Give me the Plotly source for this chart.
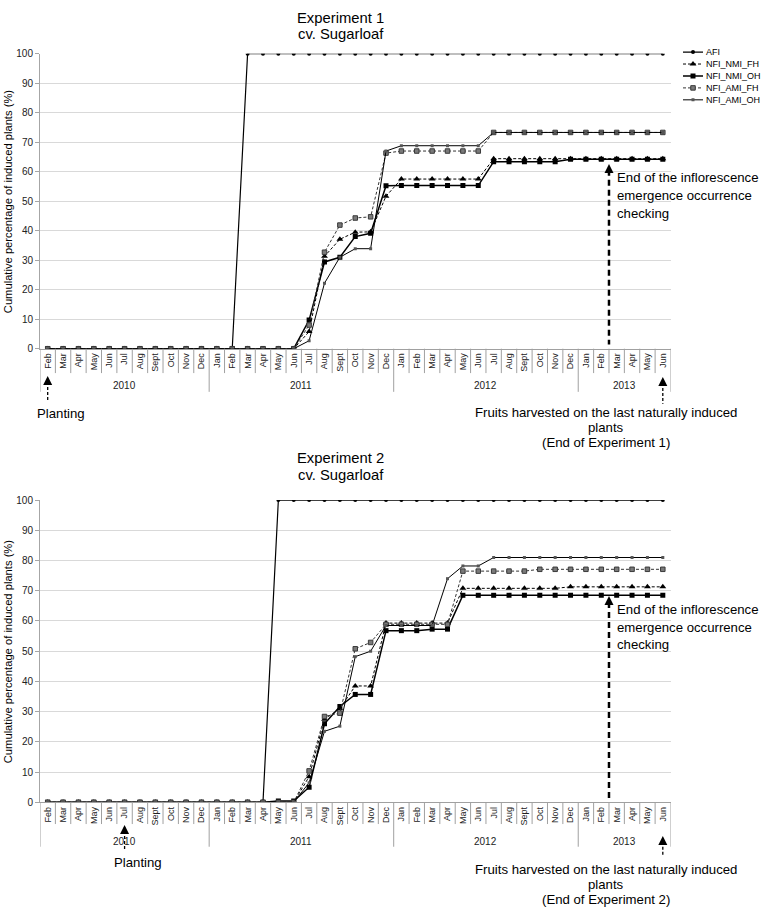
import plotly.graph_objects as go

W, H = 761, 908

# ---------------- data ----------------
months = ["Feb", "Mar", "Apr", "May", "Jun", "Jul", "Aug", "Sept", "Oct", "Nov", "Dec",
          "Jan", "Feb", "Mar", "Apr", "May", "Jun", "Jul", "Aug", "Sept", "Oct", "Nov", "Dec",
          "Jan", "Feb", "Mar", "Apr", "May", "Jun", "Jul", "Aug", "Sept", "Oct", "Nov", "Dec",
          "Jan", "Feb", "Mar", "Apr", "May", "Jun"]
years = ["2010"] * 11 + ["2011"] * 12 + ["2012"] * 12 + ["2013"] * 6

series_names = ["AFI", "NFI_NMI_FH", "NFI_NMI_OH", "NFI_AMI_FH", "NFI_AMI_OH"]

# Experiment 1
afi_1 = [0, 0, 0, 0, 0, 0, 0, 0, 0, 0, 0, 0, 0, 100, 100, 100, 100, 100, 100, 100, 100,
         100, 100, 100, 100, 100, 100, 100, 100, 100, 100, 100, 100, 100, 100, 100, 100,
         100, 100, 100, 100]
nmi_fh_1 = [0, 0, 0, 0, 0, 0, 0, 0, 0, 0, 0, 0, 0, 0, 0, 0, 0, 5.8, 31.3, 37.1, 39.5,
            39.6, 51.7, 57.5, 57.5, 57.5, 57.5, 57.5, 57.5, 64.4, 64.4, 64.4, 64.4, 64.4,
            64.4, 64.4, 64.4, 64.4, 64.4, 64.4, 64.4]
nmi_oh_1 = [0, 0, 0, 0, 0, 0, 0, 0, 0, 0, 0, 0, 0, 0, 0, 0, 0, 9.7, 29.4, 31.0, 38.0,
            39.1, 55.2, 55.3, 55.3, 55.3, 55.3, 55.3, 55.3, 63.4, 63.4, 63.4, 63.4, 63.4,
            64.2, 64.2, 64.2, 64.2, 64.2, 64.2, 64.2]
ami_fh_1 = [0, 0, 0, 0, 0, 0, 0, 0, 0, 0, 0, 0, 0, 0, 0, 0, 0, 8.0, 32.7, 41.9, 44.3,
            44.7, 66.3, 67.0, 67.0, 67.0, 67.0, 67.0, 67.0, 73.3, 73.3, 73.3, 73.3, 73.3,
            73.3, 73.3, 73.3, 73.3, 73.3, 73.3, 73.3]
ami_oh_1 = [0, 0, 0, 0, 0, 0, 0, 0, 0, 0, 0, 0, 0, 0, 0, 0, 0, 2.7, 22.2, 31.0, 33.9,
            33.9, 67.0, 68.8, 68.8, 68.8, 68.8, 68.8, 68.8, 73.3, 73.3, 73.3, 73.3, 73.3,
            73.3, 73.3, 73.3, 73.3, 73.3, 73.3, 73.3]

# Experiment 2
afi_2 = [0, 0, 0, 0, 0, 0, 0, 0, 0, 0, 0, 0, 0, 0, 0, 100, 100, 100, 100, 100, 100,
         100, 100, 100, 100, 100, 100, 100, 100, 100, 100, 100, 100, 100, 100, 100, 100,
         100, 100, 100, 100]
nmi_fh_2 = [0, 0, 0, 0, 0, 0, 0, 0, 0, 0, 0, 0, 0, 0, 0, 0, 0, 8.5, 27.5, 31.0, 38.5,
            38.5, 59.3, 59.3, 59.3, 59.3, 59.3, 70.8, 70.8, 70.8, 70.8, 70.8, 70.8, 70.8,
            71.3, 71.3, 71.3, 71.3, 71.3, 71.3, 71.3]
nmi_oh_2 = [0, 0, 0, 0, 0, 0, 0, 0, 0, 0, 0, 0, 0, 0, 0, 0.4, 0.4, 5.0, 26.0, 31.7, 35.7,
            35.7, 56.8, 56.8, 56.8, 57.3, 57.3, 68.5, 68.5, 68.5, 68.5, 68.5, 68.5, 68.5,
            68.5, 68.5, 68.5, 68.5, 68.5, 68.5, 68.5]
ami_fh_2 = [0, 0, 0, 0, 0, 0, 0, 0, 0, 0, 0, 0, 0, 0, 0, 0, 0, 10.4, 28.4, 29.5, 50.8,
            52.9, 58.9, 58.9, 58.9, 58.9, 58.9, 76.5, 76.5, 76.5, 76.5, 76.5, 77.1, 77.1,
            77.1, 77.1, 77.1, 77.1, 77.1, 77.1, 77.1]
ami_oh_2 = [0, 0, 0, 0, 0, 0, 0, 0, 0, 0, 0, 0, 0, 0, 0, 0, 0, 6.5, 23.5, 25.2, 48.2,
            50.0, 58.5, 58.5, 58.5, 58.5, 74.0, 78.2, 78.2, 81.0, 81.0, 81.0, 81.0, 81.0,
            81.0, 81.0, 81.0, 81.0, 81.0, 81.0, 81.0]

exp1 = [afi_1, nmi_fh_1, nmi_oh_1, ami_fh_1, ami_oh_1]
exp2 = [afi_2, nmi_fh_2, nmi_oh_2, ami_fh_2, ami_oh_2]

titles = [("Experiment 1", "cv. Sugarloaf"), ("Experiment 2", "cv. Sugarloaf")]
ytitle = "Cumulative percentage of induced plants (%)"
end_check = ["End of the inflorescence", "emergence occurrence", "checking"]
fruits1 = ["Fruits harvested on the last naturally induced", "plants", "(End of Experiment 1)"]
fruits2 = ["Fruits harvested on the last naturally induced", "plants", "(End of Experiment 2)"]

# ---------------- styling ----------------
FONT = "Liberation Sans, Arial, sans-serif"
ANN = 13.2
styles = [
    dict(line=dict(color="black", width=1.2), marker=dict(symbol="circle", size=4, color="black")),
    dict(line=dict(color="black", width=1, dash="3px,2px"), marker=dict(symbol="triangle-up", size=6, color="black")),
    dict(line=dict(color="black", width=1.5), marker=dict(symbol="square", size=5, color="black")),
    dict(line=dict(color="#333333", width=1, dash="3px,2px"),
         marker=dict(symbol="square", size=4.5, color="#7a7a7a", line=dict(color="#3a3a3a", width=1))),
    dict(line=dict(color="black", width=1), marker=dict(symbol="square", size=3, color="#555555")),
]


def py(px):
    return 1 - px / H


def pxx(px):
    return px / W


x_idx = list(range(len(months)))
XL, XR = 40, 670.5

# geometry of each panel (pixel positions)
panels = [
    dict(y0=347.3, y100=48.3, msep=372, ysep=391, ylab=385, xa="x", ya="y", data=exp1,
         tl=(12, 28), plant_idx=0, plant=(375, 400, 413), end=(160, 343, [174, 192, 210]),
         fr=(376, 403, [411.5, 427, 442.5]), fruits=fruits1),
    dict(y0=807, y100=500.7, msep=829, ysep=852, ylab=847, xa="x2", ya="y2", data=exp2,
         tl=(458, 475), plant_idx=5, plant=(830, 856, 868), end=(598, 803, [612, 629.5, 647]),
         fr=(841, 862, [875, 890.5, 905.5]), fruits=fruits2),
]

fig = go.Figure()
shapes = []
annotations = []

for pnum, p in enumerate(panels):
    for name, vals, st in zip(series_names, p["data"], styles):
        fig.add_trace(go.Scatter(x=x_idx, y=vals, mode="lines+markers", name=name,
                                 line=st["line"], marker=st["marker"],
                                 xaxis=p["xa"], yaxis=p["ya"], showlegend=False))
    xref = p["xa"]
    # category separators below the axis
    for b in range(len(months) + 1):
        is_year = b == 0 or b == len(months) or years[b] != years[b - 1]
        shapes.append(dict(type="line", xref=xref, yref="paper", x0=b - 0.5, x1=b - 0.5,
                           y0=py(p["y0"]), y1=py(p["ysep"] if is_year else p["msep"]),
                           line=dict(color="#a0a0a0", width=1)))
    # year labels
    for yr in sorted(set(years)):
        idxs = [i for i, v in enumerate(years) if v == yr]
        annotations.append(dict(text=yr, xref=xref, yref="paper", x=sum(idxs) / len(idxs),
                                y=py(p["ylab"]), showarrow=False, xanchor="center",
                                yanchor="middle", font=dict(size=10, color="#222")))
    # titles
    for t, yy in zip(titles[pnum], p["tl"]):
        annotations.append(dict(text=t, xref="paper", yref="paper", x=pxx(340.5), y=py(yy),
                                showarrow=False, xanchor="center", yanchor="middle",
                                font=dict(size=14.8, color="black")))
    # y title
    annotations.append(dict(text=ytitle, xref="paper", yref="paper", x=pxx(8),
                            y=py((p["y0"] + p["y100"]) / 2), textangle=-90, showarrow=False,
                            xanchor="center", yanchor="middle", font=dict(size=11.2, color="black")))
    # planting arrow
    pi = p["plant_idx"]
    tip, bot, ty = p["plant"]
    shapes.append(dict(type="line", xref=xref, yref="paper", x0=pi, x1=pi, y0=py(tip + 6),
                       y1=py(bot), line=dict(color="black", width=1.3, dash="3px,2px")))
    annotations.append(dict(text="", xref=xref, yref="paper", x=pi, y=py(tip), ax=0, ay=9,
                            showarrow=True, arrowhead=2, arrowsize=1.2, arrowwidth=1.5,
                            arrowcolor="black", standoff=0))
    annotations.append(dict(text="Planting", xref=xref, yref="paper", x=pi + 0.85, y=py(ty),
                            showarrow=False, xanchor="center", yanchor="middle",
                            font=dict(size=ANN, color="black")))
    # end-of-checking arrow (between Feb and Mar 2013)
    ex = 36.5
    tip, bot, lys = p["end"]
    shapes.append(dict(type="line", xref=xref, yref="paper", x0=ex, x1=ex, y0=py(tip + 6),
                       y1=py(bot), line=dict(color="black", width=2.5, dash="6px,4px")))
    annotations.append(dict(text="", xref=xref, yref="paper", x=ex, y=py(tip), ax=0, ay=9,
                            showarrow=True, arrowhead=2, arrowsize=1.2, arrowwidth=1.5,
                            arrowcolor="black", standoff=0))
    for line_txt, yy in zip(end_check, lys):
        annotations.append(dict(text=line_txt, xref="paper", yref="paper", x=pxx(615),
                                y=py(yy), showarrow=False, xanchor="left", yanchor="middle",
                                font=dict(size=ANN, color="black")))
    # fruits harvested arrow (Jun 2013)
    fi = len(months) - 1
    tip, bot, lys = p["fr"]
    shapes.append(dict(type="line", xref=xref, yref="paper", x0=fi, x1=fi, y0=py(tip + 6),
                       y1=py(bot), line=dict(color="black", width=1.3, dash="3px,2px")))
    annotations.append(dict(text="", xref=xref, yref="paper", x=fi, y=py(tip), ax=0, ay=9,
                            showarrow=True, arrowhead=2, arrowsize=1.2, arrowwidth=1.5,
                            arrowcolor="black", standoff=0))
    for line_txt, yy in zip(p["fruits"], lys):
        annotations.append(dict(text=line_txt, xref="paper", yref="paper", x=pxx(605.5),
                                y=py(yy), showarrow=False, xanchor="center", yanchor="middle",
                                font=dict(size=ANN, color="black")))

# manual legend (top panel), drawn on its own small axes
n = len(series_names)
for k, (name, st) in enumerate(zip(series_names, styles)):
    row = n - 1 - k
    fig.add_trace(go.Scatter(x=[0, 1], y=[row, row], mode="lines", line=st["line"],
                             xaxis="x3", yaxis="y3", showlegend=False, hoverinfo="skip"))
    fig.add_trace(go.Scatter(x=[0.5], y=[row], mode="markers", marker=st["marker"],
                             xaxis="x3", yaxis="y3", showlegend=False, hoverinfo="skip"))
    annotations.append(dict(text=name, xref="paper", yref="y3", x=pxx(704), y=row,
                            showarrow=False, xanchor="left", yanchor="middle",
                            font=dict(size=9, color="black")))

axis_x = dict(range=[-0.5, len(months) - 0.5], tickmode="array", tickvals=x_idx,
              ticktext=months, tickangle=-90, tickfont=dict(size=9, color="#222"),
              showgrid=False, zeroline=False, showline=True, linecolor="#a0a0a0",
              ticks="", domain=[pxx(XL), pxx(XR)], fixedrange=True)
axis_y = dict(range=[0, 100], dtick=10, showgrid=True, gridcolor="#d9d9d9", gridwidth=1,
              zeroline=False, showline=True, linecolor="#a6a6a6", ticks="outside",
              ticklen=4, tickcolor="#a6a6a6", tickfont=dict(size=10, color="#222"),
              fixedrange=True)

fig.update_layout(
    width=W, height=H, margin=dict(l=0, r=0, t=0, b=0),
    paper_bgcolor="white", plot_bgcolor="white",
    font=dict(family=FONT, color="black"),
    showlegend=False, hovermode=False,
    xaxis=dict(axis_x, anchor="y"),
    yaxis=dict(axis_y, anchor="x", domain=[py(panels[0]["y0"]), py(panels[0]["y100"])]),
    xaxis2=dict(axis_x, anchor="y2"),
    yaxis2=dict(axis_y, anchor="x2", domain=[py(panels[1]["y0"]), py(panels[1]["y100"])]),
    xaxis3=dict(domain=[pxx(683), pxx(703)], range=[0, 1], visible=False, anchor="y3",
                fixedrange=True),
    yaxis3=dict(domain=[py(46.7 + 12.1 * 4 + 6.05), py(46.7 - 6.05)], range=[-0.5, 4.5],
                visible=False, anchor="x3", fixedrange=True),
    shapes=shapes, annotations=annotations,
)

fig.write_html("out.html", config={"displayModeBar": False},
               post_script="document.body.style.margin='0px';document.body.style.overflow='hidden';")
